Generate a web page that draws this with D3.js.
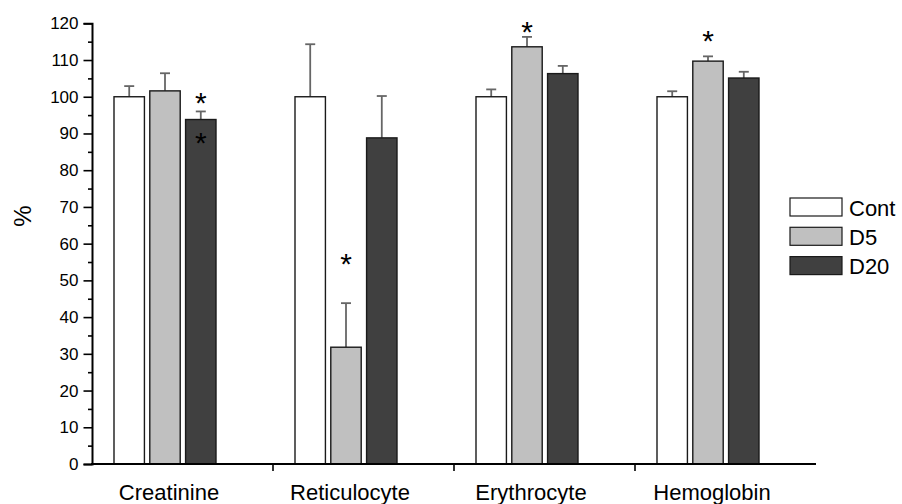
<!DOCTYPE html>
<html>
<head>
<meta charset="utf-8">
<script src="https://cdn.jsdelivr.net/npm/d3@7"></script>
<style>
  html, body { margin: 0; padding: 0; background: #fff; }
  svg { display: block; font-family: "Liberation Sans", Arial, sans-serif; }
</style>
</head>
<body>
<svg id="chart" width="902" height="504"></svg>
<script>
// Blood and kidney markers, relative to control (%)
const categories = ["Creatinine", "Reticulocyte", "Erythrocyte", "Hemoglobin"];
const seriesNames = ["Cont", "D5", "D20"];
const seriesColors = ["#ffffff", "#c0c0c0", "#404040"];

const contValues = [100, 100, 100, 100];
const contErrors = [2.9, 14.3, 2.0, 1.5];
const d5Values = [101.6, 31.8, 113.6, 109.7];
const d5Errors = [4.8, 12.0, 2.7, 1.3];
const d20Values = [93.8, 88.8, 106.3, 105.1];
const d20Errors = [2.2, 11.4, 2.1, 1.7];

const yTicks = [0, 10, 20, 30, 40, 50, 60, 70, 80, 90, 100, 110, 120];
const yMinorTicks = [5, 15, 25, 35, 45, 55, 65, 75, 85, 95, 105, 115];

// significance markers: [category, series, height in %]
const starMarks = [
  ["Creatinine", "D20", 100.2],
  ["Creatinine", "D20", 89.4],
  ["Reticulocyte", "D5", 56.4],
  ["Erythrocyte", "D5", 119.5],
  ["Hemoglobin", "D5", 117.2]
];

const valuesBySeries = [contValues, d5Values, d20Values];
const errorsBySeries = [contErrors, d5Errors, d20Errors];

const svg = d3.select("#chart");
const plotLeft = 92, plotRight = 816, plotTop = 23.3, plotBottom = 464;

const x = d3.scaleBand().domain(categories).range([plotLeft, plotRight]).padding(0);
const inner = d3.scaleBand().domain(seriesNames)
  .range([22, 124]).paddingInner(0.15).paddingOuter(0);
const y = d3.scaleLinear().domain([0, 120]).range([plotBottom, plotTop]);

const rows = [];
categories.forEach((c, ci) => {
  seriesNames.forEach((s, si) => {
    rows.push({ c, s, si, v: valuesBySeries[si][ci], e: errorsBySeries[si][ci] });
  });
});

const barX = d => x(d.c) + inner(d.s);
const barMid = d => barX(d) + inner.bandwidth() / 2;

// error bars (drawn first so the bar outline sits on top)
const err = svg.append("g").attr("stroke", "#666").attr("stroke-width", 1.8).attr("fill", "none");
err.selectAll("line.stem").data(rows).join("line")
  .attr("class", "stem")
  .attr("x1", barMid).attr("x2", barMid)
  .attr("y1", d => y(d.v)).attr("y2", d => y(d.v + d.e));
err.selectAll("line.cap").data(rows).join("line")
  .attr("class", "cap")
  .attr("x1", d => barMid(d) - 5).attr("x2", d => barMid(d) + 5)
  .attr("y1", d => y(d.v + d.e)).attr("y2", d => y(d.v + d.e));

// bars
svg.append("g").selectAll("rect").data(rows).join("rect")
  .attr("x", barX)
  .attr("width", inner.bandwidth())
  .attr("y", d => y(d.v))
  .attr("height", d => y(0) - y(d.v))
  .attr("fill", d => seriesColors[d.si])
  .attr("stroke", "#1a1a1a")
  .attr("stroke-width", 1.4);

// asterisks
svg.append("g").selectAll("text").data(starMarks).join("text")
  .attr("x", d => x(d[0]) + inner(d[1]) + inner.bandwidth() / 2)
  .attr("y", d => y(d[2]) + 17)
  .attr("text-anchor", "middle")
  .attr("font-size", 30)
  .attr("fill", "#000")
  .text("*");

// y axis
const yAxis = d3.axisLeft(y).tickValues(yTicks).tickSize(8.5).tickPadding(5).tickFormat(d3.format("d"));
const gy = svg.append("g").attr("transform", `translate(${plotLeft},0)`).call(yAxis);
gy.select(".domain").attr("stroke", "#000").attr("stroke-width", 2);
gy.selectAll(".tick line").attr("stroke", "#000").attr("stroke-width", 1.6);
gy.selectAll(".tick text").attr("font-size", 17).attr("fill", "#000")
  .attr("font-family", "'Liberation Sans', Arial, sans-serif");
const gyMinor = svg.append("g").attr("transform", `translate(${plotLeft},0)`)
  .call(d3.axisLeft(y).tickValues(yMinorTicks).tickSize(4).tickFormat(""));
gyMinor.select(".domain").remove();
gyMinor.selectAll(".tick line").attr("stroke", "#000").attr("stroke-width", 1.6);

// x axis: ticks sit on the category boundaries
const boundaries = categories.slice(1).map(c => x(c));
const gx = svg.append("g");
gx.append("line").attr("x1", plotLeft - 1).attr("x2", plotRight).attr("y1", plotBottom).attr("y2", plotBottom)
  .attr("stroke", "#000").attr("stroke-width", 2);
gx.selectAll("line.tk").data(boundaries).join("line")
  .attr("class", "tk")
  .attr("x1", d => d).attr("x2", d => d)
  .attr("y1", plotBottom).attr("y2", plotBottom + 7)
  .attr("stroke", "#000").attr("stroke-width", 1.6);
gx.selectAll("text").data(categories).join("text")
  .attr("x", c => x(c) + inner.range()[0] + (inner.range()[1] - inner.range()[0]) / 2 + 4)
  .attr("y", 500)
  .attr("text-anchor", "middle")
  .attr("font-size", 22)
  .attr("fill", "#000")
  .text(c => c);

// y axis title
svg.append("text")
  .attr("transform", "translate(31,216) rotate(-90)")
  .attr("text-anchor", "middle")
  .attr("font-size", 24)
  .attr("fill", "#000")
  .text("%");

// legend
const legend = svg.append("g").attr("transform", "translate(790,198)");
const item = legend.selectAll("g").data(seriesNames).join("g")
  .attr("transform", (d, i) => `translate(0,${i * 29.3})`);
item.append("rect").attr("width", 52).attr("height", 18)
  .attr("fill", (d, i) => seriesColors[i]).attr("stroke", "#1a1a1a").attr("stroke-width", 1.2);
item.append("text").attr("x", 59).attr("y", 17.5)
  .attr("font-size", 22).attr("fill", "#000").text(d => d);
</script>
</body>
</html>
